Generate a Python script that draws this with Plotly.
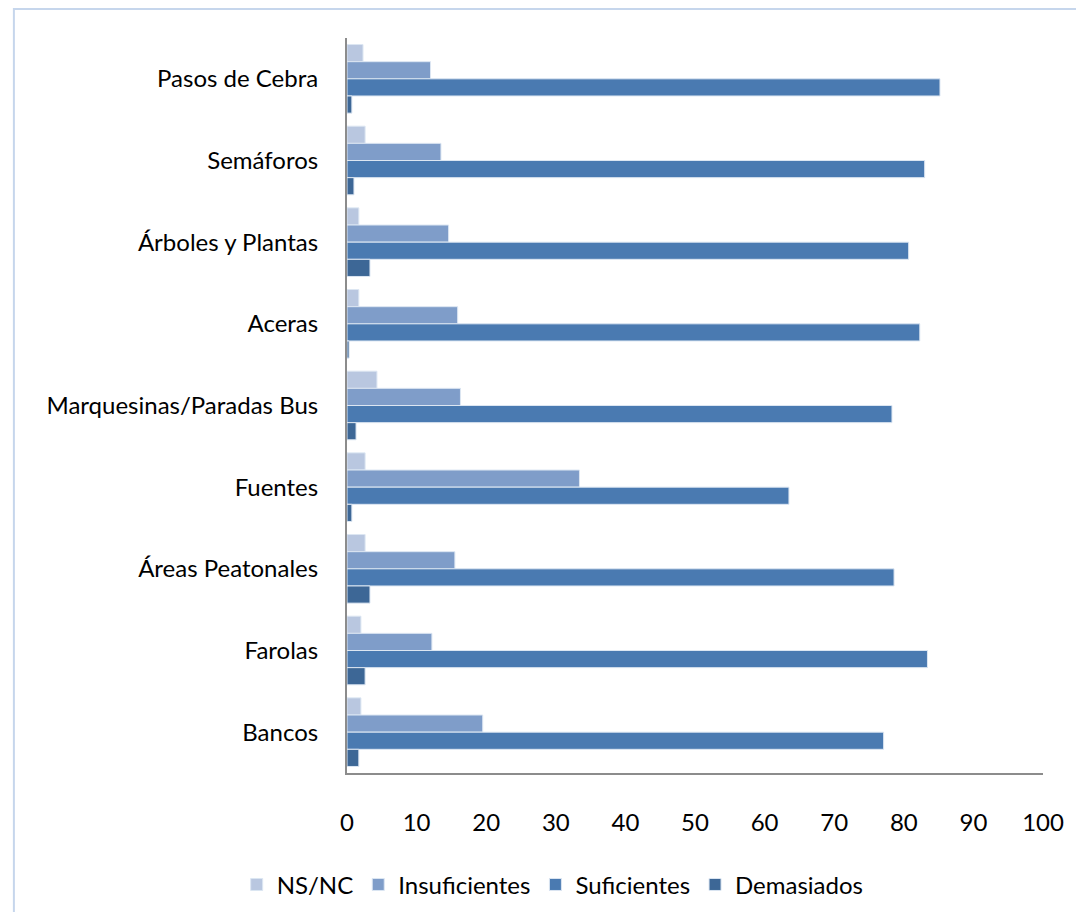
import plotly.graph_objects as go

categories = ['Pasos de Cebra', 'Semáforos', 'Árboles y Plantas', 'Aceras',
              'Marquesinas/Paradas Bus', 'Fuentes', 'Áreas Peatonales', 'Farolas', 'Bancos']

ns_nc = [2.3, 2.6, 1.7, 1.7, 4.3, 2.6, 2.6, 2.0, 2.0]
insuficientes = [12.0, 13.5, 14.6, 15.9, 16.3, 33.4, 15.5, 12.2, 19.5]
suficientes = [85.2, 83.0, 80.7, 82.3, 78.3, 63.5, 78.6, 83.4, 77.1]
demasiados = [0.7, 1.0, 3.3, 0.3, 1.3, 0.7, 3.3, 2.6, 1.7]

series = [
    ('NS/NC', ns_nc, '#B9C7E0'),
    ('Insuficientes', insuficientes, '#7F9DC9'),
    ('Suficientes', suficientes, '#4A7AB1'),
    ('Demasiados', demasiados, '#3D6796'),
]

fig = go.Figure()

for name, vals, color in series:
    fig.add_trace(
        go.Bar(
            y=categories,
            x=vals,
            name=name,
            orientation='h',
            marker=dict(color=color, line=dict(color='#DCE6F2', width=1)),
        )
    )

# figure sits a few px inside the page; plot area on the page: x 345..1048, y 38..773
fig.update_layout(
    width=1068,
    height=904,
    barmode='group',
    bargap=0.16,
    bargroupgap=0,
    plot_bgcolor='white',
    paper_bgcolor='white',
    font=dict(family='Lato', size=24, color='black'),
    margin=dict(l=339, r=22, t=30, b=139),
    legend=dict(
        orientation='h',
        xref='container', yref='container',
        x=0.510, y=0.030,
        xanchor='center', yanchor='middle',
        font=dict(size=24),
        itemwidth=30,
        traceorder='normal',
    ),
    xaxis=dict(
        range=[0, 100],
        dtick=10,
        showgrid=False,
        zeroline=False,
        showline=True,
        linecolor='#8C8C8C',
        linewidth=2,
        ticks='',
        ticklabelstandoff=27,
    ),
    yaxis=dict(
        autorange='reversed',
        showgrid=False,
        showline=True,
        linecolor='#8C8C8C',
        linewidth=2,
        ticks='',
        ticklabelstandoff=22,
    ),
    shapes=[
        # outer chart frame: only the left and top edges fall inside the picture
        dict(
            type='rect', xref='paper', yref='paper',
            x0=-0.4786, x1=1.2, y0=-0.4, y1=1.0395,
            line=dict(color='#C6D6EC', width=2),
            fillcolor='rgba(0,0,0,0)',
            layer='below',
        )
    ],
)

fig.write_html("out.html")
